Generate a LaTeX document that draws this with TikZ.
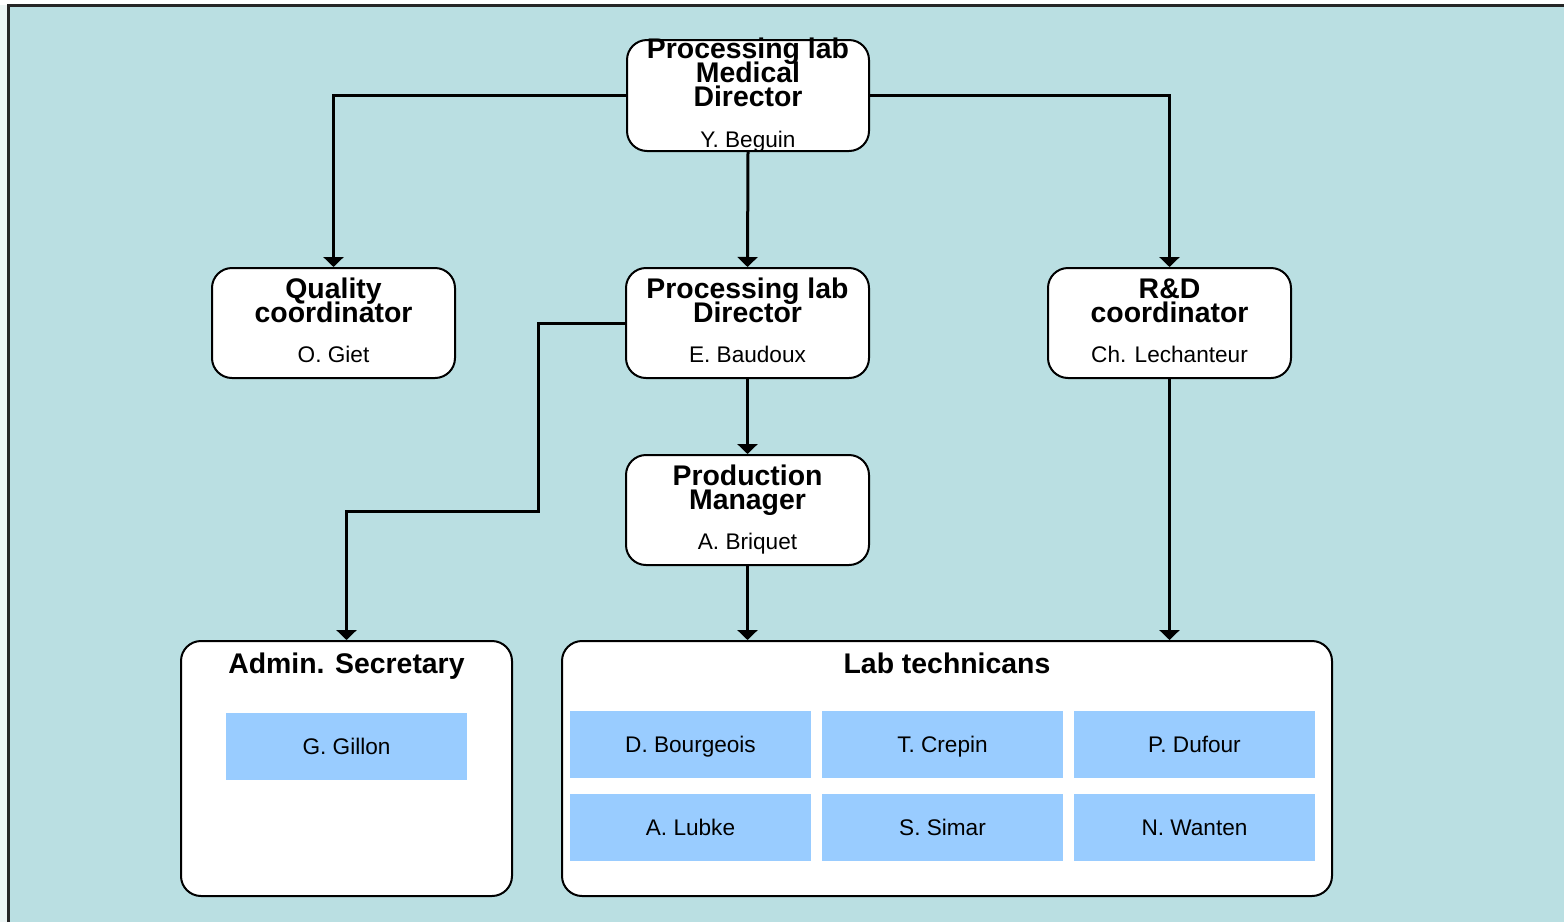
\documentclass[tikz,border=0pt]{standalone}
\usepackage{fontspec}
\setmainfont{Liberation Sans}
\usetikzlibrary{arrows.meta}
\definecolor{bg}{RGB}{186,223,226}
\definecolor{cell}{RGB}{153,204,255}
\definecolor{strip}{RGB}{236,245,244}
\newcommand\mytightlines{\lineskiplimit=-100pt\relax\lineskip=0pt\relax}
\begin{document}
\begin{tikzpicture}[x=0.5pt,y=-0.5pt,
  box/.style={draw=black, line width=1pt, fill=white, rounded corners=10pt, inner sep=0pt},
  sbox/.style={box, minimum width=121.5pt, minimum height=55pt},
  cellbox/.style={fill=cell, inner sep=0pt, minimum width=120.5pt, minimum height=33.5pt, text height=10pt, text depth=2pt, font=\fontsize{11.3}{13}\selectfont},
  ttl/.style={anchor=base, inner sep=0pt, align=center, font=\fontsize{14.2}{12}\selectfont\bfseries\mytightlines},
  nm/.style={anchor=base, inner sep=0pt, font=\fontsize{11.3}{13}\selectfont},
  conn/.style={line width=1.5pt, -{Triangle[width=10pt,length=5pt]}}]
\useasboundingbox (0,0) rectangle (1564,922);
\fill[white] (0,0) rectangle (1564,922);
\fill[strip] (0,5) rectangle (8,922);
\fill[bg] (8,5) rectangle (1564,922);
\draw[line width=1.2pt, black!85] (8.5,922) -- (8.5,5.5) -- (1564,5.5);

% boxes
\node[box, minimum width=121pt, minimum height=55.5pt] (top) at (748,95.5) {};
\node[sbox] (qual) at (333.5,323) {};
\node[sbox] (pld) at (747.5,323) {};
\node[sbox] (rd) at (1169.5,323) {};
\node[sbox] (pm) at (747.5,510) {};
\node[box, minimum width=165.5pt, minimum height=127.5pt] (admin) at (346.5,768.5) {};
\node[box, minimum width=385pt, minimum height=127.5pt] (lab) at (947,768.5) {};

% texts
\node[ttl] (t1) at (748,106) {Processing lab\\Medical\\Director};
\node[nm] (t4) at (748,147) {Y. Beguin};

\node[ttl] (q1) at (333.5,322) {Quality\\coordinator};
\node[nm] (q3) at (333.5,362) {O. Giet};

\node[ttl] (p1) at (747.5,322) {Processing lab\\Director};
\node[nm] (p3) at (747.5,362) {E. Baudoux};

\node[ttl] (r1) at (1169.5,322) {R\&D\\coordinator};
\node[nm] (r3) at (1169.5,362) {Ch. Lechanteur};

\node[ttl] (m1) at (747.5,509) {Production\\Manager};
\node[nm] (m3) at (747.5,549) {A. Briquet};

\node[ttl] (a1) at (346.5,673) {Admin. Secretary};
\node[ttl] (l1) at (947,673) {Lab technicans};

% cells
\node[cellbox] (gg) at (346.5,746.5) {G. Gillon};
\node[cellbox] (c1) at (690.5,744.5) {D. Bourgeois};
\node[cellbox] (c2) at (942.5,744.5) {T. Crepin};
\node[cellbox] (c3) at (1194.5,744.5) {P. Dufour};
\node[cellbox] (c4) at (690.5,827.5) {A. Lubke};
\node[cellbox] (c5) at (942.5,827.5) {S. Simar};
\node[cellbox] (c6) at (1194.5,827.5) {N. Wanten};

% connectors
\coordinate (j1) at (538,511);
\draw[conn] (top.west) -| (qual.north);
\draw[conn] (top.east) -| (rd.north);
\draw[conn] (top.south) -- (pld.north);
\draw[conn] (pld.west) -| (j1) -| (admin.north);
\draw[conn] (pld.south) -- (pm.north);
\draw[conn] (pm.south) -- (pm.south |- lab.north);
\draw[conn] (rd.south) -- (rd.south |- lab.north);
\end{tikzpicture}
\end{document}
